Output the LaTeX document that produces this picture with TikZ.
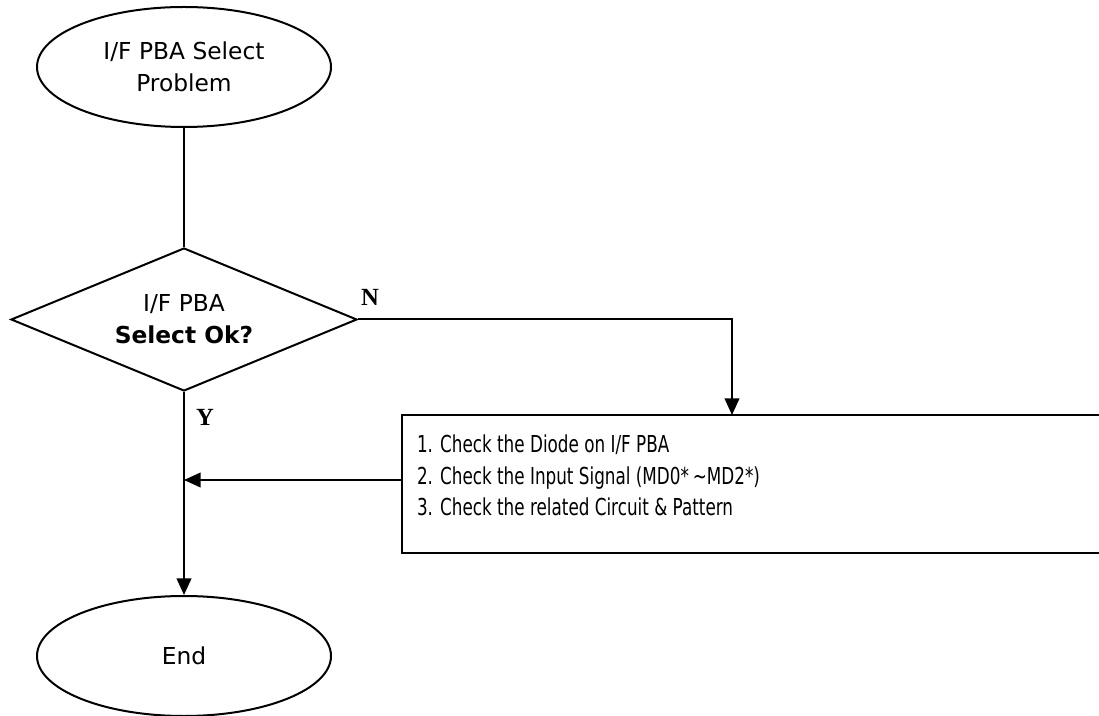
\documentclass[tikz,border=0pt]{standalone}
\usepackage{fontspec}
\setmainfont{DejaVu Sans}
\newfontfamily\stepfont[FakeStretch=0.72]{DejaVu Sans}
\newfontfamily\ynfont{Liberation Serif}
\usetikzlibrary{shapes.geometric,arrows.meta}
\begin{document}
\begin{tikzpicture}[x=0.75pt, y=-0.75pt, line width=1.5pt,
  term/.style={draw, ellipse, minimum width=220.5pt, minimum height=90pt, inner sep=0pt,
    align=center, font=\fontsize{17.5}{23.6}\selectfont},
  query/.style={draw, diamond, aspect=2.42, minimum width=259.5pt, minimum height=107.25pt, inner sep=0pt,
    align=center, font=\fontsize{17.5}{24}\selectfont},
  yn/.style={font=\ynfont\bfseries\fontsize{18.5}{20}\selectfont, inner sep=0pt},
  arr/.style={-{Triangle[length=12.5pt,width=11pt]}}]
\useasboundingbox (0,0) rectangle (1099,716);
% flow nodes
\node[term] (start) at (184,67) {I/F PBA Select\\Problem};
\node[query] (ok) at (184,319.5) {I/F PBA\\\textbf{Select Ok?}};
\node[draw, rectangle, minimum width=527.25pt, minimum height=103.5pt, inner sep=0pt] (box) at (753.5,484) {};
\node[anchor=north west, align=left, inner sep=0pt, font=\stepfont\fontsize{17.5}{23.6}\selectfont] (steps) at (416,434)
  {1. Check the Diode on I/F PBA\\2. Check the Input Signal (MD0*\,\textasciitilde MD2*)\\3. Check the related Circuit \& Pattern};
\node[term] (end) at (184,656) {End};
% branch labels
\node[yn] (n) at (370,297) {N};
\node[yn] (y) at (205,417) {Y};
% connectors
\coordinate (boxin) at (732,415);
\coordinate (merge) at (184,480);
\draw (start) -- (ok);
\draw[arr] (ok.east) -| (boxin);
\draw[arr] (box.west |- merge) -- (merge);
\draw[arr] (ok.south) -- (end);
\end{tikzpicture}
\end{document}
